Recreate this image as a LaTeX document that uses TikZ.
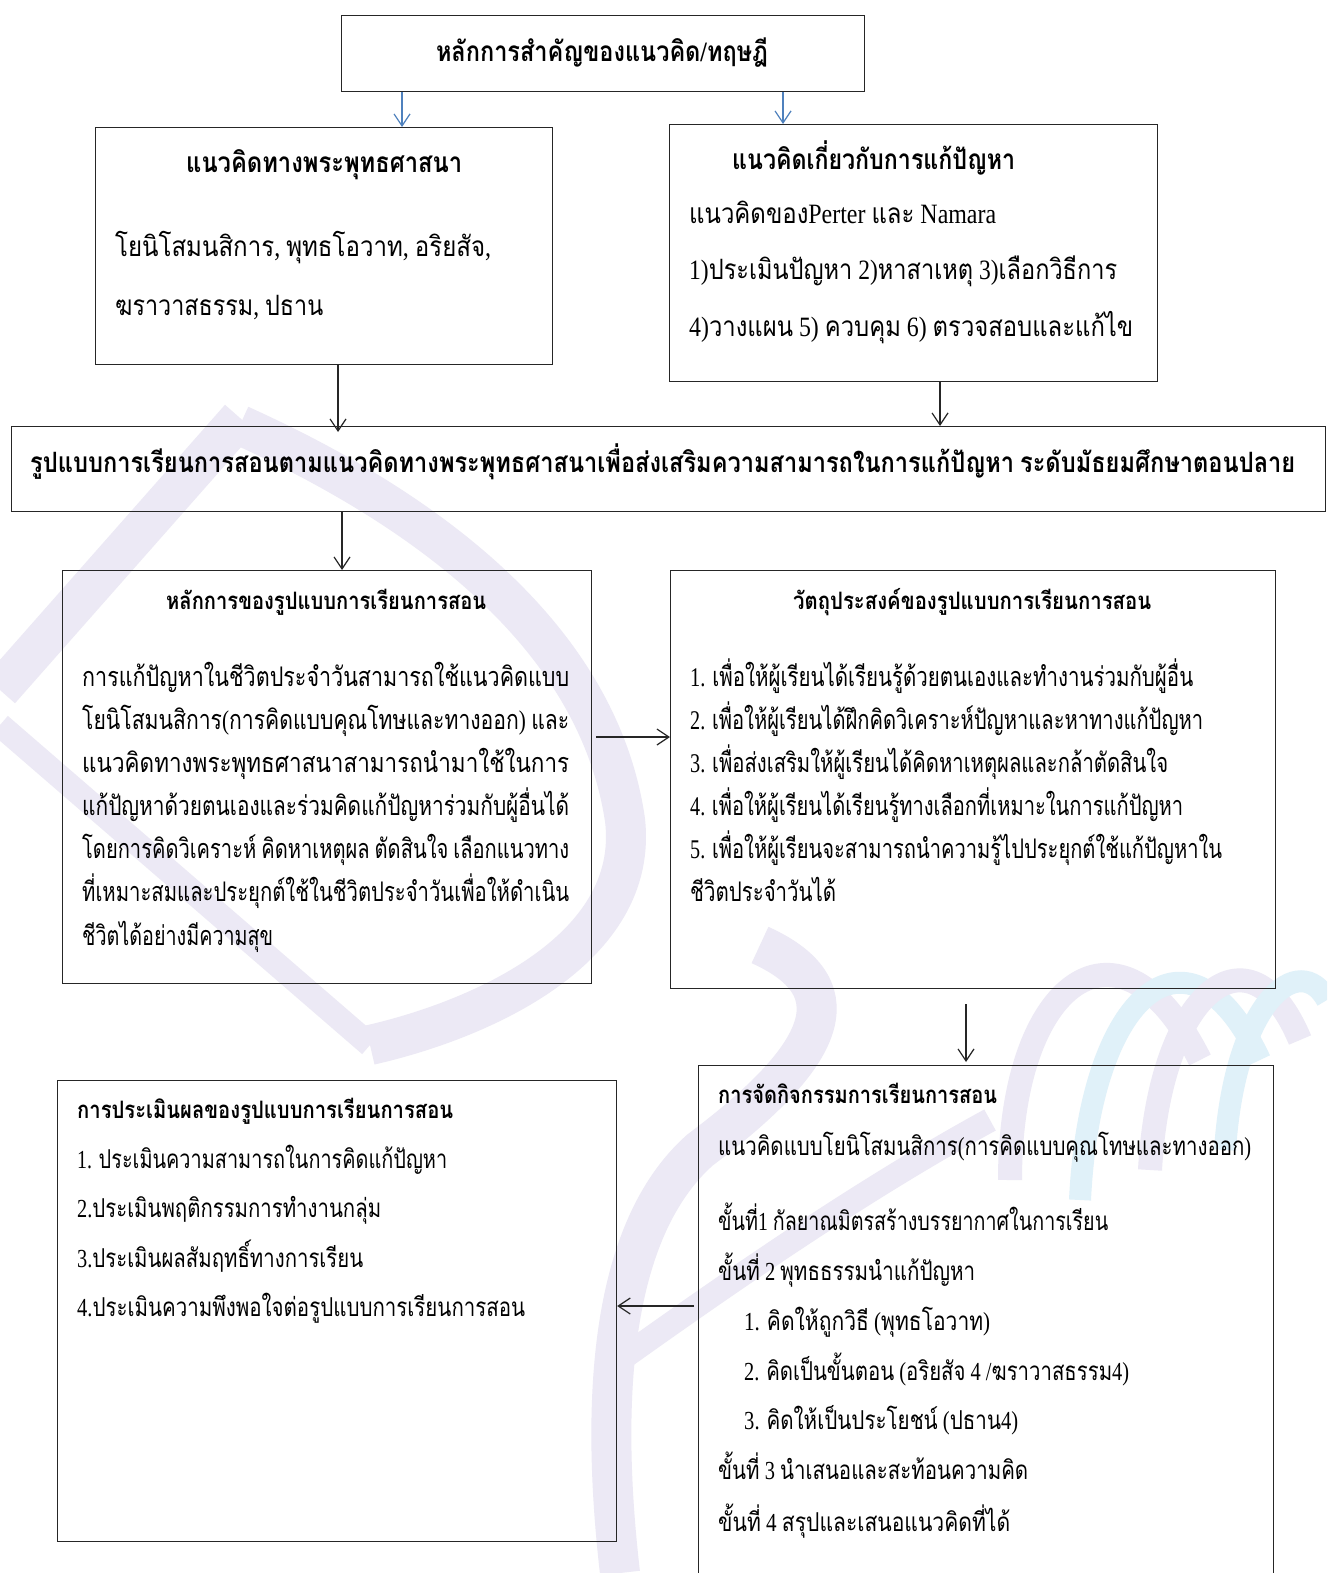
\documentclass[tikz,border=0pt]{standalone}
\usepackage{fontspec}
\usepackage{graphicx}
\usetikzlibrary{arrows.meta}
\setmainfont{Liberation Serif}
\newfontfamily\thaifont[Script=Thai]{Loma}
\XeTeXinterchartokenstate=1
\newXeTeXintercharclass\thaiclass
\count255="0E00
\loop
  \XeTeXcharclass\count255=\thaiclass
  \ifnum\count255<"0E7F \advance\count255 by 1 \repeat
\XeTeXinterchartoks 0 \thaiclass = {\begingroup\thaifont}
\XeTeXinterchartoks 4095 \thaiclass = {\begingroup\thaifont}
\XeTeXinterchartoks \thaiclass 0 = {\endgroup}
\XeTeXinterchartoks \thaiclass 4095 = {\endgroup}
\newcommand\fw[2]{\resizebox{#1pt}{\height}{#2}}
\newcommand\Hbig{\bfseries\fontsize{28}{32}\selectfont}
\newcommand\Hsmall{\bfseries\fontsize{24}{28}\selectfont}
\newcommand\Bbig{\fontsize{28}{32}\selectfont}
\newcommand\Bmid{\fontsize{27}{32}\selectfont}
\newcommand\Bsmall{\fontsize{26}{30}\selectfont}
\definecolor{wmlav}{RGB}{236,233,245}
\definecolor{wmblue}{RGB}{224,241,249}
\definecolor{arrowblue}{RGB}{79,129,189}
\tikzset{
  box/.style={draw=black!85, line width=1.2pt, rectangle, inner sep=0pt, anchor=north west},
  arr/.style={draw=black!85, line width=1.2pt, -{Straight Barb[length=12pt,width=16pt,line width=1.2pt]}},
  barr/.style={arr, draw=arrowblue},
  lt/.style={anchor=base west, inner sep=0pt},
  ct/.style={anchor=base, inner sep=0pt},
  wm/.style={line width=40pt, draw=wmlav, line cap=butt},
  wmthin/.style={line width=24pt, draw=wmlav, line cap=butt},
  wmb/.style={line width=22pt, draw=wmblue, line cap=butt},
}
\begin{document}
\begin{tikzpicture}[x=1pt,y=-1pt]
\path[use as bounding box, clip] (0,0) rectangle (1327,1573);
\fill[white] (0,0) rectangle (1327,1573);
% watermark (faint)
\draw[wm] (0,690) -- (240,418);
\draw[wm] (240,425) .. controls (450,520) and (600,650) .. (625,820) .. controls (640,950) and (480,1020) .. (370,1045);
\draw[wmthin] (0,725) -- (370,1045);
\draw[wm] (760,945) .. controls (860,990) and (820,1060) .. (700,1150) .. controls (610,1230) and (600,1400) .. (620,1573);
\draw[wmthin] (620,1360) .. controls (760,1260) and (880,1180) .. (990,1120);
\draw[wmthin] (1010,1180) .. controls (1010,980) and (1120,900) .. (1200,1060);
\draw[wmb] (1080,1200) .. controls (1090,990) and (1190,910) .. (1260,1060);
\draw[wmthin] (1150,1170) .. controls (1160,990) and (1250,920) .. (1300,1040);
\draw[wmb] (1225,1150) .. controls (1235,1000) and (1300,950) .. (1327,1000);
% boxes
\node[box, minimum width=523pt, minimum height=76pt] (top) at (341,15) {};
\node[box, minimum width=457pt, minimum height=237pt] (lb1) at (95,127) {};
\node[box, minimum width=488pt, minimum height=257pt] (rb1) at (669,124) {};
\node[box, minimum width=1314pt, minimum height=85pt] (wide) at (11,426) {};
\node[box, minimum width=529pt, minimum height=413pt] (lp) at (62,570) {};
\node[box, minimum width=605pt, minimum height=418pt] (ro) at (670,570) {};
\node[box, minimum width=575pt, minimum height=560pt] (ra) at (698,1065) {};
\node[box, minimum width=559pt, minimum height=461pt] (le) at (57,1080) {};
% connector x/y positions
\coordinate (xa) at (402,0);
\coordinate (xb) at (783,0);
\coordinate (xc) at (338,0);
\coordinate (xd) at (940,0);
\coordinate (xe) at (342,0);
\coordinate (ya) at (0,737);
\coordinate (xf) at (966,0);
\coordinate (yb) at (0,1306);
\draw[barr] (top.south -| xa) -- (lb1.north -| xa);
\draw[barr] (top.south -| xb) -- (rb1.north -| xb);
\draw[arr] (lb1.south -| xc) -- ([yshift=-6pt]wide.north -| xc);
\draw[arr] (rb1.south -| xd) -- (wide.north -| xd);
\draw[arr] (wide.south -| xe) -- (lp.north -| xe);
\draw[arr, shorten <=4pt] (lp.east |- ya) -- (ro.west |- ya);
\draw[arr, shorten <=15pt, shorten >=3pt] (ro.south -| xf) -- (ra.north -| xf);
\draw[arr, shorten <=4pt] (ra.west |- yb) -- (le.east |- yb);
% texts
\node[ct] (t0) at (602,62) {\Hbig\fw{332}{หลักการสำคัญของแนวคิด/ทฤษฎี}};
\node[lt] (t1) at (186,173) {\Hbig\fw{276}{แนวคิดทางพระพุทธศาสนา}};
\node[lt] (t1a) at (115,256) {\Bbig\fw{376}{โยนิโสมนสิการ, พุทธโอวาท, อริยสัจ,}};
\node[lt] (t1b) at (115,315) {\Bbig\fw{208}{ฆราวาสธรรม, ปธาน}};
\node[lt] (t2) at (732,170) {\Hbig\fw{283}{แนวคิดเกี่ยวกับการแก้ปัญหา}};
\node[lt] (t2a) at (689,223) {\Bbig\fw{307}{แนวคิดของPerter และ Namara}};
\node[lt] (t2b) at (689,279) {\Bbig\fw{428}{1)ประเมินปัญหา 2)หาสาเหตุ 3)เลือกวิธีการ}};
\node[lt] (t2c) at (689,336) {\Bbig\fw{444}{4)วางแผน 5) ควบคุม 6) ตรวจสอบและแก้ไข}};
\node[lt] (t3) at (30,472) {\Hbig\fw{1265}{รูปแบบการเรียนการสอนตามแนวคิดทางพระพุทธศาสนาเพื่อส่งเสริมความสามารถในการแก้ปัญหา ระดับมัธยมศึกษาตอนปลาย}};
\node[lt] (t4) at (166,609) {\Hsmall\fw{320}{หลักการของรูปแบบการเรียนการสอน}};
\node[lt] (t4a) at (82,686) {\Bmid\fw{487}{การแก้ปัญหาในชีวิตประจำวันสามารถใช้แนวคิดแบบ}};
\node[lt] (t4b) at (82,729) {\Bmid\fw{487}{โยนิโสมนสิการ(การคิดแบบคุณโทษและทางออก) และ}};
\node[lt] (t4c) at (82,772) {\Bmid\fw{487}{แนวคิดทางพระพุทธศาสนาสามารถนำมาใช้ในการ}};
\node[lt] (t4d) at (82,815) {\Bmid\fw{487}{แก้ปัญหาด้วยตนเองและร่วมคิดแก้ปัญหาร่วมกับผู้อื่นได้}};
\node[lt] (t4e) at (82,858) {\Bmid\fw{487}{โดยการคิดวิเคราะห์ คิดหาเหตุผล ตัดสินใจ เลือกแนวทาง}};
\node[lt] (t4f) at (82,901) {\Bmid\fw{487}{ที่เหมาะสมและประยุกต์ใช้ในชีวิตประจำวันเพื่อให้ดำเนิน}};
\node[lt] (t4g) at (82,945) {\Bmid\fw{191}{ชีวิตได้อย่างมีความสุข}};
\node[lt] (t5) at (793,609) {\Hsmall\fw{358}{วัตถุประสงค์ของรูปแบบการเรียนการสอน}};
\node[lt] (t5a) at (690,686) {\Bmid\fw{503}{1. เพื่อให้ผู้เรียนได้เรียนรู้ด้วยตนเองและทำงานร่วมกับผู้อื่น}};
\node[lt] (t5b) at (690,729) {\Bmid\fw{513}{2. เพื่อให้ผู้เรียนได้ฝึกคิดวิเคราะห์ปัญหาและหาทางแก้ปัญหา}};
\node[lt] (t5c) at (690,772) {\Bmid\fw{478}{3. เพื่อส่งเสริมให้ผู้เรียนได้คิดหาเหตุผลและกล้าตัดสินใจ}};
\node[lt] (t5d) at (690,815) {\Bmid\fw{493}{4. เพื่อให้ผู้เรียนได้เรียนรู้ทางเลือกที่เหมาะในการแก้ปัญหา}};
\node[lt] (t5e) at (690,858) {\Bmid\fw{532}{5. เพื่อให้ผู้เรียนจะสามารถนำความรู้ไปประยุกต์ใช้แก้ปัญหาใน}};
\node[lt] (t5f) at (690,901) {\Bmid\fw{146}{ชีวิตประจำวันได้}};
\node[lt] (t6) at (718,1103) {\Hsmall\fw{279}{การจัดกิจกรรมการเรียนการสอน}};
\node[lt] (t6a) at (718,1155) {\Bsmall\fw{533}{แนวคิดแบบโยนิโสมนสิการ(การคิดแบบคุณโทษและทางออก)}};
\node[lt] (t6b) at (718,1230) {\Bsmall\fw{390}{ขั้นที่1 กัลยาณมิตรสร้างบรรยากาศในการเรียน}};
\node[lt] (t6c) at (718,1280) {\Bsmall\fw{257}{ขั้นที่ 2 พุทธธรรมนำแก้ปัญหา}};
\node[lt] (t6d) at (744,1330) {\Bsmall\fw{246}{1. คิดให้ถูกวิธี  (พุทธโอวาท)}};
\node[lt] (t6e) at (744,1380) {\Bsmall\fw{385}{2. คิดเป็นขั้นตอน (อริยสัจ 4 /ฆราวาสธรรม4)}};
\node[lt] (t6f) at (744,1429) {\Bsmall\fw{274}{3. คิดให้เป็นประโยชน์ (ปธาน4)}};
\node[lt] (t6g) at (718,1479) {\Bsmall\fw{310}{ขั้นที่ 3 นำเสนอและสะท้อนความคิด}};
\node[lt] (t6h) at (718,1531) {\Bsmall\fw{292}{ขั้นที่ 4 สรุปและเสนอแนวคิดที่ได้}};
\node[lt] (t7) at (77,1118) {\Hsmall\fw{376}{การประเมินผลของรูปแบบการเรียนการสอน}};
\node[lt] (t7a) at (77,1168) {\Bsmall\fw{370}{1. ประเมินความสามารถในการคิดแก้ปัญหา}};
\node[lt] (t7b) at (77,1217) {\Bsmall\fw{304}{2.ประเมินพฤติกรรมการทำงานกลุ่ม}};
\node[lt] (t7c) at (77,1267) {\Bsmall\fw{286}{3.ประเมินผลสัมฤทธิ์ทางการเรียน}};
\node[lt] (t7d) at (77,1316) {\Bsmall\fw{448}{4.ประเมินความพึงพอใจต่อรูปแบบการเรียนการสอน}};
\end{tikzpicture}
\end{document}
